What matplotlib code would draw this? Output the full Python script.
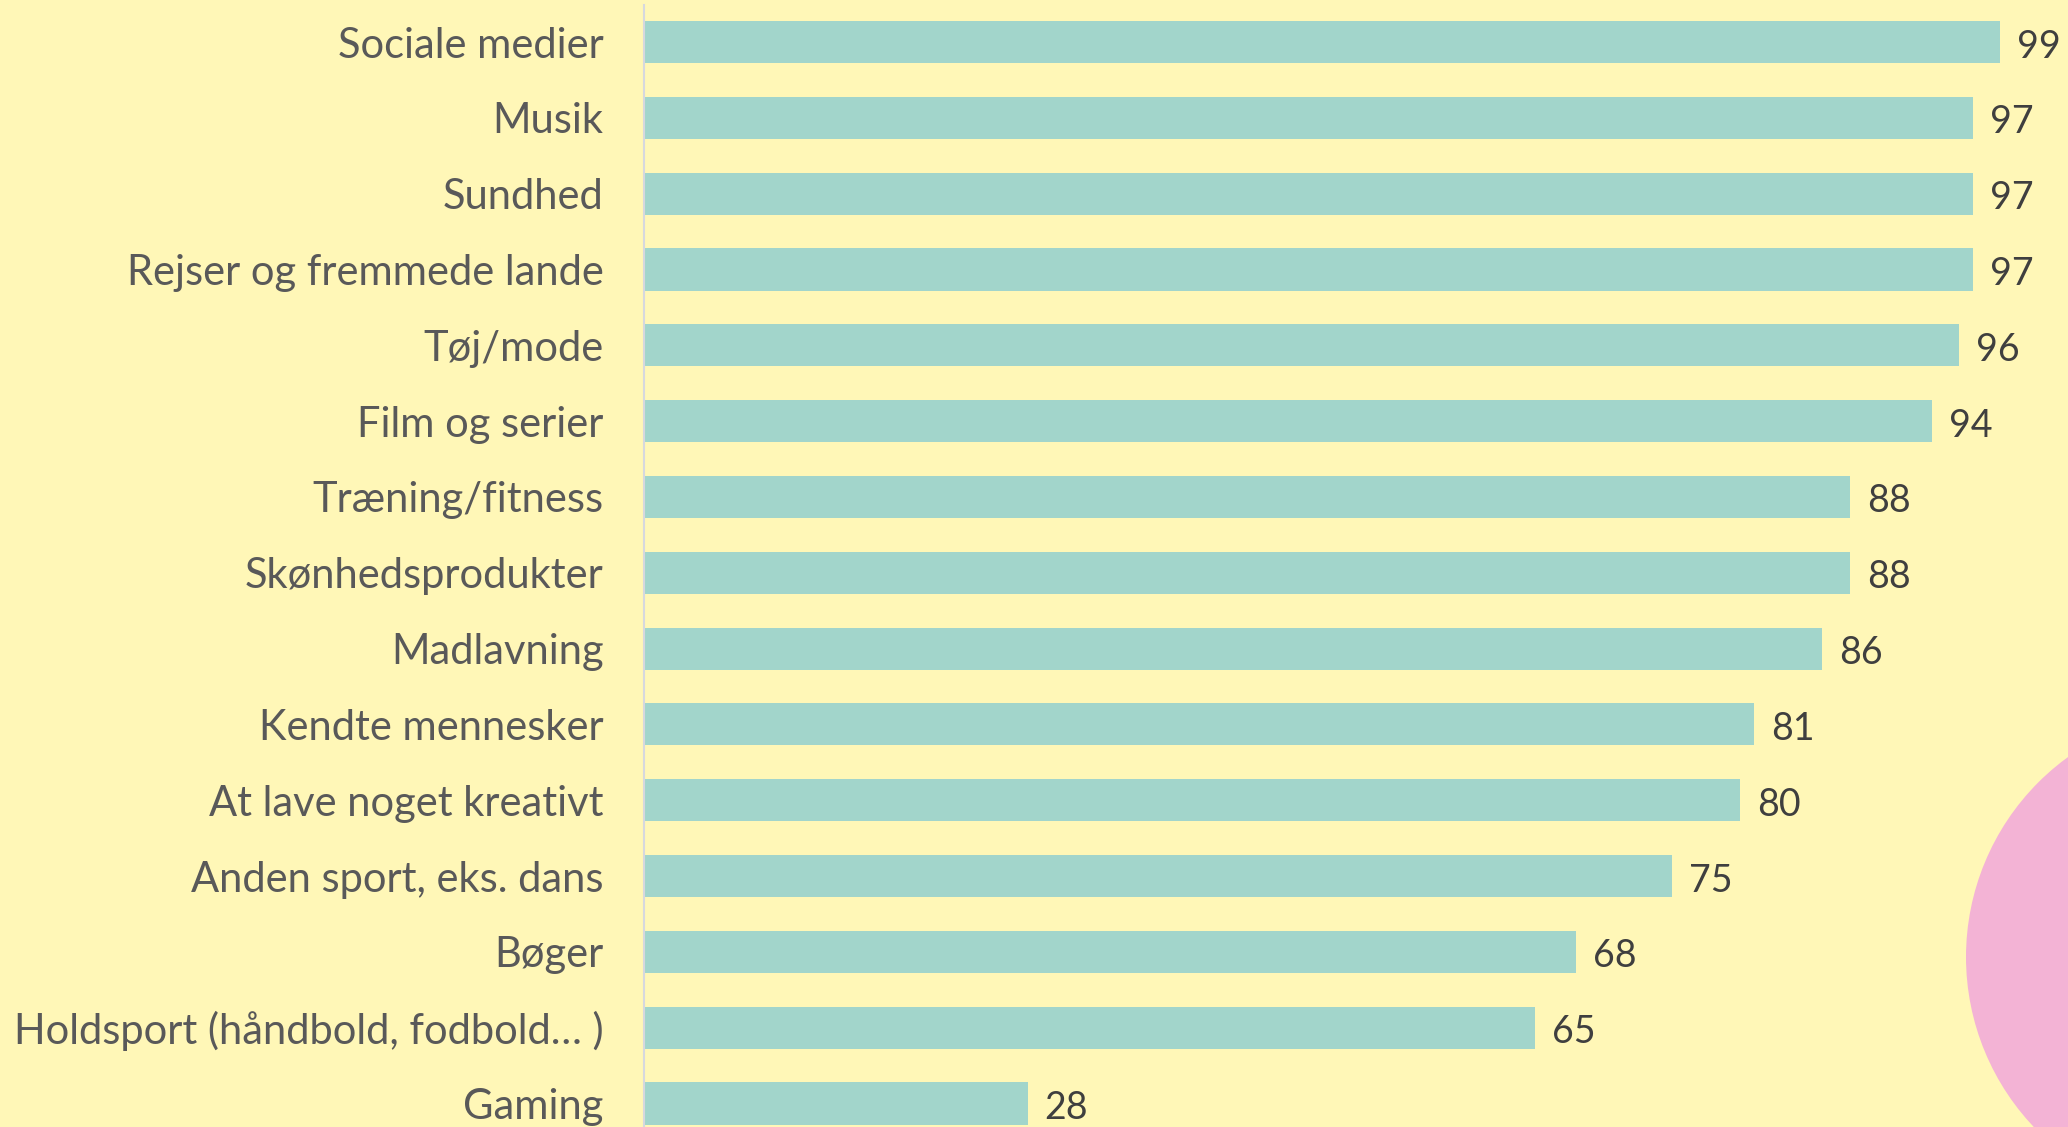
import matplotlib
matplotlib.use("Agg")
import matplotlib.pyplot as plt
from matplotlib.patches import Ellipse

# data
categories = [
    "Sociale medier", "Musik", "Sundhed", "Rejser og fremmede lande",
    "Tøj/mode", "Film og serier", "Træning/fitness", "Skønhedsprodukter",
    "Madlavning", "Kendte mennesker", "At lave noget kreativt",
    "Anden sport, eks. dans", "Bøger", "Holdsport (håndbold, fodbold… )",
    "Gaming",
]
values = [99, 97, 97, 97, 96, 94, 88, 88, 86, 81, 80, 75, 68, 65, 28]

BG = "#FFF7B7"
BAR = "#A2D5CB"
PINK = "#F3B3D5"

plt.rcParams['font.family'] = ['Lato', 'DejaVu Sans']

W, H = 2068, 1127
fig = plt.figure(figsize=(W / 100, H / 100), dpi=100, facecolor=BG)

# pink circle peeking in at the bottom right
r = 247
fig.patches.append(Ellipse((2213 / W, 1 - 957 / H), 2 * r / W, 2 * r / H,
                           transform=fig.transFigure, facecolor=PINK,
                           edgecolor="none", zorder=0))

ax = fig.add_axes([644 / W, 0, 1 - 644 / W, 1 - 5 / H])
ax.patch.set_alpha(0)

ypos = list(range(len(categories)))
ax.barh(ypos, values, height=0.555, color=BAR, zorder=2)

for y, v in zip(ypos, values):
    ax.text(v + 1.25, y + 0.06, str(v), va="center", ha="left",
            fontsize=27, color="#3F3F3F")

ax.set_xlim(0, (W - 644) / 13.7)
ax.set_ylim(14.31, -0.488)
ax.set_yticks(ypos)
ax.set_yticklabels(categories, fontsize=30, color="#595959")
ax.tick_params(axis="y", length=0, pad=29)
ax.set_xticks([])

for s in ["top", "right", "bottom"]:
    ax.spines[s].set_visible(False)
ax.spines["left"].set_color("#D6D8DE")
ax.spines["left"].set_linewidth(1.5)

fig.savefig("out.png", dpi=100, facecolor=BG)
